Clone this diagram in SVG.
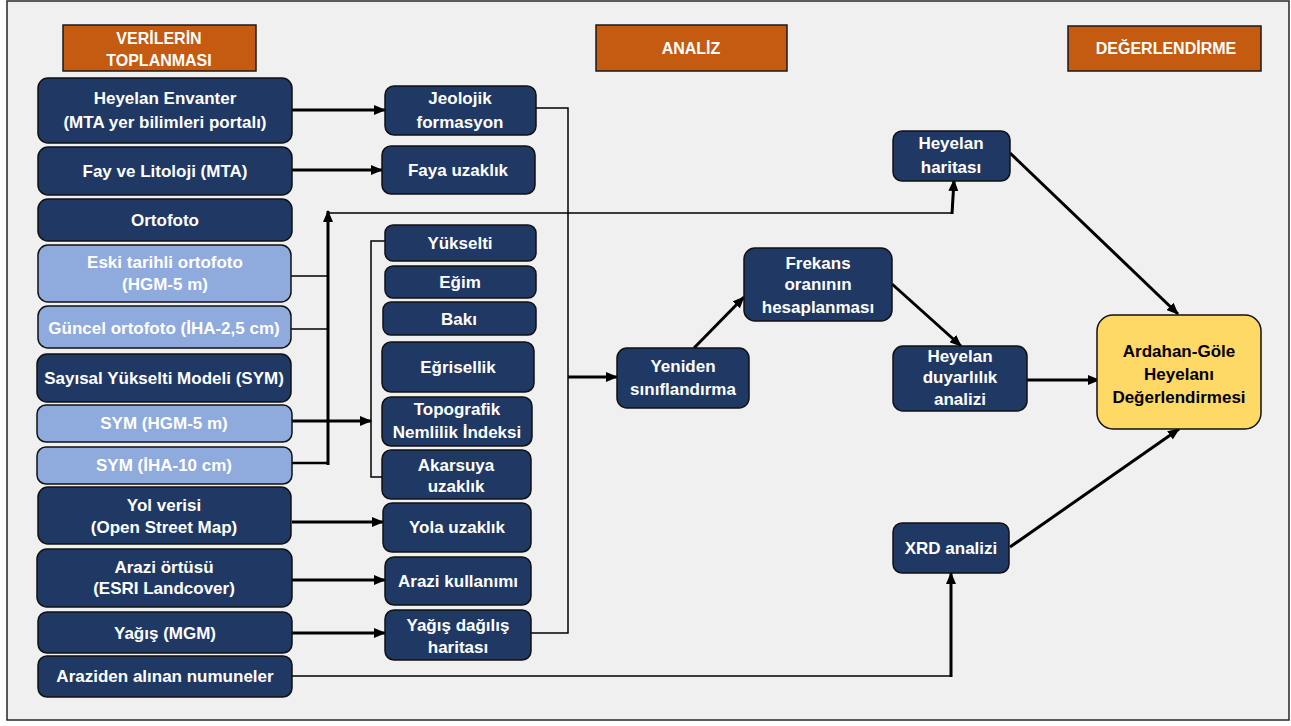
<svg xmlns="http://www.w3.org/2000/svg" width="1291" height="726" viewBox="0 0 1291 726">
<style>
.bg{fill:#f0f0f0;stroke:#262626;stroke-width:1.5}
.hd{fill:#c55a11;stroke:#1a1a1a;stroke-width:1.5}
.dk{fill:#203864;stroke:#111;stroke-width:1.5}
.lt{fill:#8faadc;stroke:#111;stroke-width:1.5}
.yl{fill:#ffd966;stroke:#111;stroke-width:1.5}
text{font-family:"Liberation Sans",Arial,sans-serif;font-weight:bold;font-size:17px;fill:#fff;text-anchor:middle}
text.h{font-size:16px}
text.k{fill:#000;font-size:17px}
.th{fill:none;stroke:#000;stroke-width:3}
.tn{fill:none;stroke:#000;stroke-width:1.5}
</style>
<defs>
<marker id="ah" markerUnits="userSpaceOnUse" markerWidth="12" markerHeight="10" refX="11" refY="5" orient="auto">
<path d="M0,0 L12,5 L0,10 z" fill="#000"/>
</marker>
</defs>
<rect class="bg" x="7" y="1" width="1282" height="719"/>

<g id="h1"><rect class="hd" x="63" y="25" width="193" height="46"/><text class="h" x="159" y="44">VERİLERİN</text><text class="h" x="159" y="66">TOPLANMASI</text></g>
<g id="h2"><rect class="hd" x="596" y="25" width="191" height="46"/><text class="h" x="691" y="54">ANALİZ</text></g>
<g id="h3"><rect class="hd" x="1068" y="26" width="193" height="45"/><text class="h" x="1166" y="54">DEĞERLENDİRME</text></g>

<g id="connectors">
<path class="th" d="M292,110 H385" marker-end="url(#ah)"/>
<path class="th" d="M292,170 H382" marker-end="url(#ah)"/>
<path class="tn" d="M536,108 H568 V633 H531"/>
<path class="th" d="M568,377 H617" marker-end="url(#ah)"/>
<path class="tn" d="M385,241 H371 V477 H382"/>
<path class="th" d="M292,421 H371" marker-end="url(#ah)"/>
<path class="tn" d="M291,276 H328"/>
<path class="tn" d="M291,329 H328"/>
<path class="th" d="M292,463 H328" style="stroke-width:2.5"/>
<path class="th" d="M328,465 V211" marker-end="url(#ah)"/>
<path class="tn" d="M328,213 H952"/>
<path class="th" d="M952,214 L954,180" marker-end="url(#ah)"/>
<path class="tn" d="M292,676 H951"/>
<path class="th" d="M951,677 V573" marker-end="url(#ah)"/>
<path class="th" d="M292,522 H383" marker-end="url(#ah)"/>
<path class="th" d="M292,580 H385" marker-end="url(#ah)"/>
<path class="th" d="M292,633 H385" marker-end="url(#ah)"/>
<path class="th" d="M694,348 L744,297" marker-end="url(#ah)"/>
<path class="th" d="M892,284 L961,346" marker-end="url(#ah)"/>
<path class="th" d="M1027,380 H1099" marker-end="url(#ah)"/>
<path class="th" d="M1010,153 L1178,314" marker-end="url(#ah)"/>
<path class="th" d="M1010,547 L1179,429" marker-end="url(#ah)"/>
</g>

<g id="n1"><rect class="dk" x="38" y="78" width="254" height="65" rx="10"/><text x="165" y="104">Heyelan Envanter</text><text x="165" y="128">(MTA yer bilimleri portalı)</text></g>
<g id="n2"><rect class="dk" x="38" y="147" width="254" height="48" rx="10"/><text x="165" y="177">Fay ve Litoloji (MTA)</text></g>
<g id="n3"><rect class="dk" x="38" y="199" width="254" height="42" rx="10"/><text x="165" y="226">Ortofoto</text></g>
<g id="n4"><rect class="lt" x="38" y="245" width="253" height="57" rx="10"/><text x="165" y="268">Eski tarihli ortofoto</text><text x="165" y="290">(HGM-5 m)</text></g>
<g id="n5"><rect class="lt" x="38" y="306" width="253" height="42" rx="10"/><text x="164" y="334">Güncel ortofoto (İHA-2,5 cm)</text></g>
<g id="n6"><rect class="dk" x="37" y="354" width="254" height="48" rx="10"/><text x="164" y="384">Sayısal Yükselti Modeli (SYM)</text></g>
<g id="n7"><rect class="lt" x="37" y="405" width="255" height="37" rx="9"/><text x="164" y="429">SYM (HGM-5 m)</text></g>
<g id="n8"><rect class="lt" x="37" y="447" width="255" height="37" rx="9"/><text x="164" y="471">SYM (İHA-10 cm)</text></g>
<g id="n9"><rect class="dk" x="38" y="487" width="253" height="57" rx="10"/><text x="164" y="511">Yol verisi</text><text x="164" y="533">(Open Street Map)</text></g>
<g id="n10"><rect class="dk" x="37" y="549" width="255" height="58" rx="10"/><text x="164" y="573">Arazi örtüsü</text><text x="164" y="594">(ESRI Landcover)</text></g>
<g id="n11"><rect class="dk" x="38" y="612" width="254" height="41" rx="9"/><text x="165" y="639">Yağış (MGM)</text></g>
<g id="n12"><rect class="dk" x="38" y="656" width="254" height="41" rx="9"/><text x="165" y="682">Araziden alınan numuneler</text></g>

<g id="m1"><rect class="dk" x="385" y="86" width="151" height="49" rx="9"/><text x="460" y="104">Jeolojik</text><text x="460" y="128">formasyon</text></g>
<g id="m2"><rect class="dk" x="382" y="146" width="153" height="48" rx="9"/><text x="458" y="176">Faya uzaklık</text></g>
<g id="m3"><rect class="dk" x="385" y="225" width="151" height="36" rx="8"/><text x="460" y="249">Yükselti</text></g>
<g id="m4"><rect class="dk" x="385" y="266" width="151" height="32" rx="8"/><text x="460" y="288">Eğim</text></g>
<g id="m5"><rect class="dk" x="383" y="302" width="153" height="33" rx="8"/><text x="459" y="325">Bakı</text></g>
<g id="m6"><rect class="dk" x="382" y="342" width="152" height="50" rx="9"/><text x="458" y="373">Eğrisellik</text></g>
<g id="m7"><rect class="dk" x="382" y="397" width="150" height="49" rx="9"/><text x="457" y="415">Topografik</text><text x="457" y="438">Nemlilik İndeksi</text></g>
<g id="m8"><rect class="dk" x="382" y="450" width="149" height="49" rx="9"/><text x="456" y="471">Akarsuya</text><text x="456" y="492">uzaklık</text></g>
<g id="m9"><rect class="dk" x="383" y="503" width="148" height="49" rx="9"/><text x="457" y="533">Yola uzaklık</text></g>
<g id="m10"><rect class="dk" x="385" y="557" width="146" height="48" rx="9"/><text x="458" y="587">Arazi kullanımı</text></g>
<g id="m11"><rect class="dk" x="385" y="610" width="146" height="50" rx="9"/><text x="458" y="631">Yağış dağılış</text><text x="458" y="653">haritası</text></g>

<g id="r1"><rect class="dk" x="617" y="348" width="132" height="60" rx="10"/><text x="683" y="372">Yeniden</text><text x="683" y="395">sınıflandırma</text></g>
<g id="r2"><rect class="dk" x="744" y="248" width="148" height="73" rx="11"/><text x="818" y="269">Frekans</text><text x="818" y="290">oranının</text><text x="818" y="313">hesaplanması</text></g>
<g id="r3"><rect class="dk" x="893" y="131" width="117" height="50" rx="9"/><text x="951" y="149">Heyelan</text><text x="951" y="173">haritası</text></g>
<g id="r4"><rect class="dk" x="893" y="346" width="134" height="65" rx="10"/><text x="960" y="362">Heyelan</text><text x="960" y="383">duyarlılık</text><text x="960" y="405">analizi</text></g>
<g id="r5"><rect class="dk" x="893" y="523" width="116" height="50" rx="9"/><text x="951" y="554">XRD analizi</text></g>
<g id="r6"><rect class="yl" x="1097" y="315" width="164" height="114" rx="16"/><text class="k" x="1179" y="357">Ardahan-Göle</text><text class="k" x="1179" y="380">Heyelanı</text><text class="k" x="1179" y="403">Değerlendirmesi</text></g>
</svg>
